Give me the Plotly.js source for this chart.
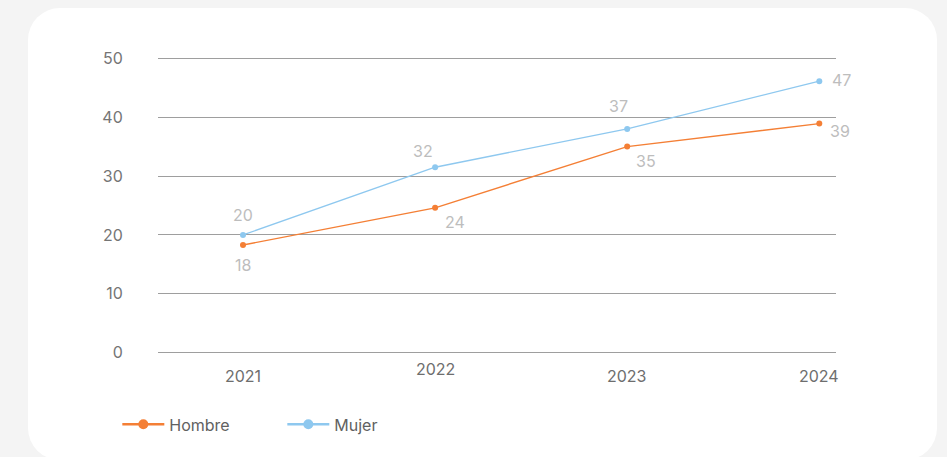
<!DOCTYPE html>
<html>
<head>
<meta charset="utf-8">
<script src="https://cdn.plot.ly/plotly-3.0.1.min.js"></script>
<style>
  html, body { margin: 0; padding: 0; background: #f4f4f4; width: 947px; height: 457px; overflow: hidden; }
  #card { position: absolute; left: 28px; top: 8px; width: 909px; height: 452px; background: #ffffff; border-radius: 32px; }
  #chart { position: absolute; left: 0; top: 0; width: 947px; height: 457px; }
</style>
</head>
<body>
<div id="card"></div>
<div id="chart"></div>
<script>
const years = [2021, 2022, 2023, 2024];
const yearLabels = ['2021', '2022', '2023', '2024'];
const hombre = [18.3, 24.6, 35.0, 38.9];
const mujer = [20.0, 31.5, 38.0, 46.1];
const hombreLabels = ['18', '24', '35', '39'];
const mujerLabels = ['20', '32', '37', '47'];
const yTicks = [0, 10, 20, 30, 40, 50];

const FONT = 'Inter, "Open Sans", sans-serif';
const ORANGE = '#f47f35';
const BLUE = '#8ec8ef';

function series(x, y, name, color) {
  return {
    x: x, y: y, name: name, type: 'scatter', mode: 'lines+markers',
    line: { color: color, width: 1.4 },
    marker: { color: color, size: 6 },
    hoverinfo: 'skip', showlegend: false, cliponaxis: false
  };
}
function legendEntry(name, color) {
  return {
    x: [null], y: [null], name: name, type: 'scatter', mode: 'lines+markers',
    line: { color: color, width: 2.5 }, marker: { color: color, size: 10 },
    hoverinfo: 'skip', showlegend: true
  };
}

const traces = [
  series(years, hombre, 'Hombre', ORANGE),
  series(years, mujer, 'Mujer', BLUE),
  legendEntry('Hombre', ORANGE),
  legendEntry('Mujer', BLUE)
];

// label offsets (px) relative to each point
const hombreOff = [[0, -20], [20, -14], [19, -14], [21, -7]];
const mujerOff = [[0, 20], [-12, 16], [-9, 23], [22, 1]];

const annotations = [];
years.forEach((yr, i) => {
  annotations.push({
    x: yr, xref: 'x', y: hombre[i], yref: 'y', text: hombreLabels[i], showarrow: false,
    xanchor: 'center', yanchor: 'middle', xshift: hombreOff[i][0], yshift: hombreOff[i][1],
    font: { family: FONT, size: 16, color: '#bdbdbd' }
  });
  annotations.push({
    x: yr, xref: 'x', y: mujer[i], yref: 'y', text: mujerLabels[i], showarrow: false,
    xanchor: 'center', yanchor: 'middle', xshift: mujerOff[i][0], yshift: mujerOff[i][1],
    font: { family: FONT, size: 16, color: '#bdbdbd' }
  });
});

const xShift = [-11, -4, -11, -11];
years.forEach((yr, i) => {
  annotations.push({
    x: yr, xref: 'x', y: 0, yref: 'y', yanchor: 'top', xanchor: 'center',
    yshift: xShift[i], text: yearLabels[i], showarrow: false,
    font: { family: FONT, size: 16, color: '#6e6e6e' }
  });
});

const layout = {
  width: 947, height: 457,
  margin: { l: 158, r: 111, t: 57, b: 103 },
  paper_bgcolor: 'rgba(0,0,0,0)',
  plot_bgcolor: 'rgba(0,0,0,0)',
  font: { family: FONT, color: '#757575' },
  showlegend: true,
  legend: {
    orientation: 'h', x: -0.06, xanchor: 'left', y: -0.237, yanchor: 'middle',
    font: { family: FONT, size: 16, color: '#616161' },
    itemwidth: 42, entrywidth: 108, bgcolor: 'rgba(0,0,0,0)'
  },
  xaxis: {
    type: 'linear', range: [2020.5575, 2024.087],
    showgrid: false, zeroline: false, showline: false,
    tickvals: years, showticklabels: false, ticks: ''
  },
  yaxis: {
    range: [-0.2, 50.2], tickvals: yTicks, ticktext: yTicks.map(String),
    showgrid: true, gridcolor: '#9e9e9e', gridwidth: 1,
    zeroline: false, showline: false,
    ticks: 'outside', ticklen: 31, tickcolor: 'rgba(0,0,0,0)',
    tickfont: { family: FONT, size: 16, color: '#757575' }
  },
  annotations: annotations
};

Plotly.newPlot('chart', traces, layout, { displayModeBar: false, staticPlot: true });
</script>
</body>
</html>
